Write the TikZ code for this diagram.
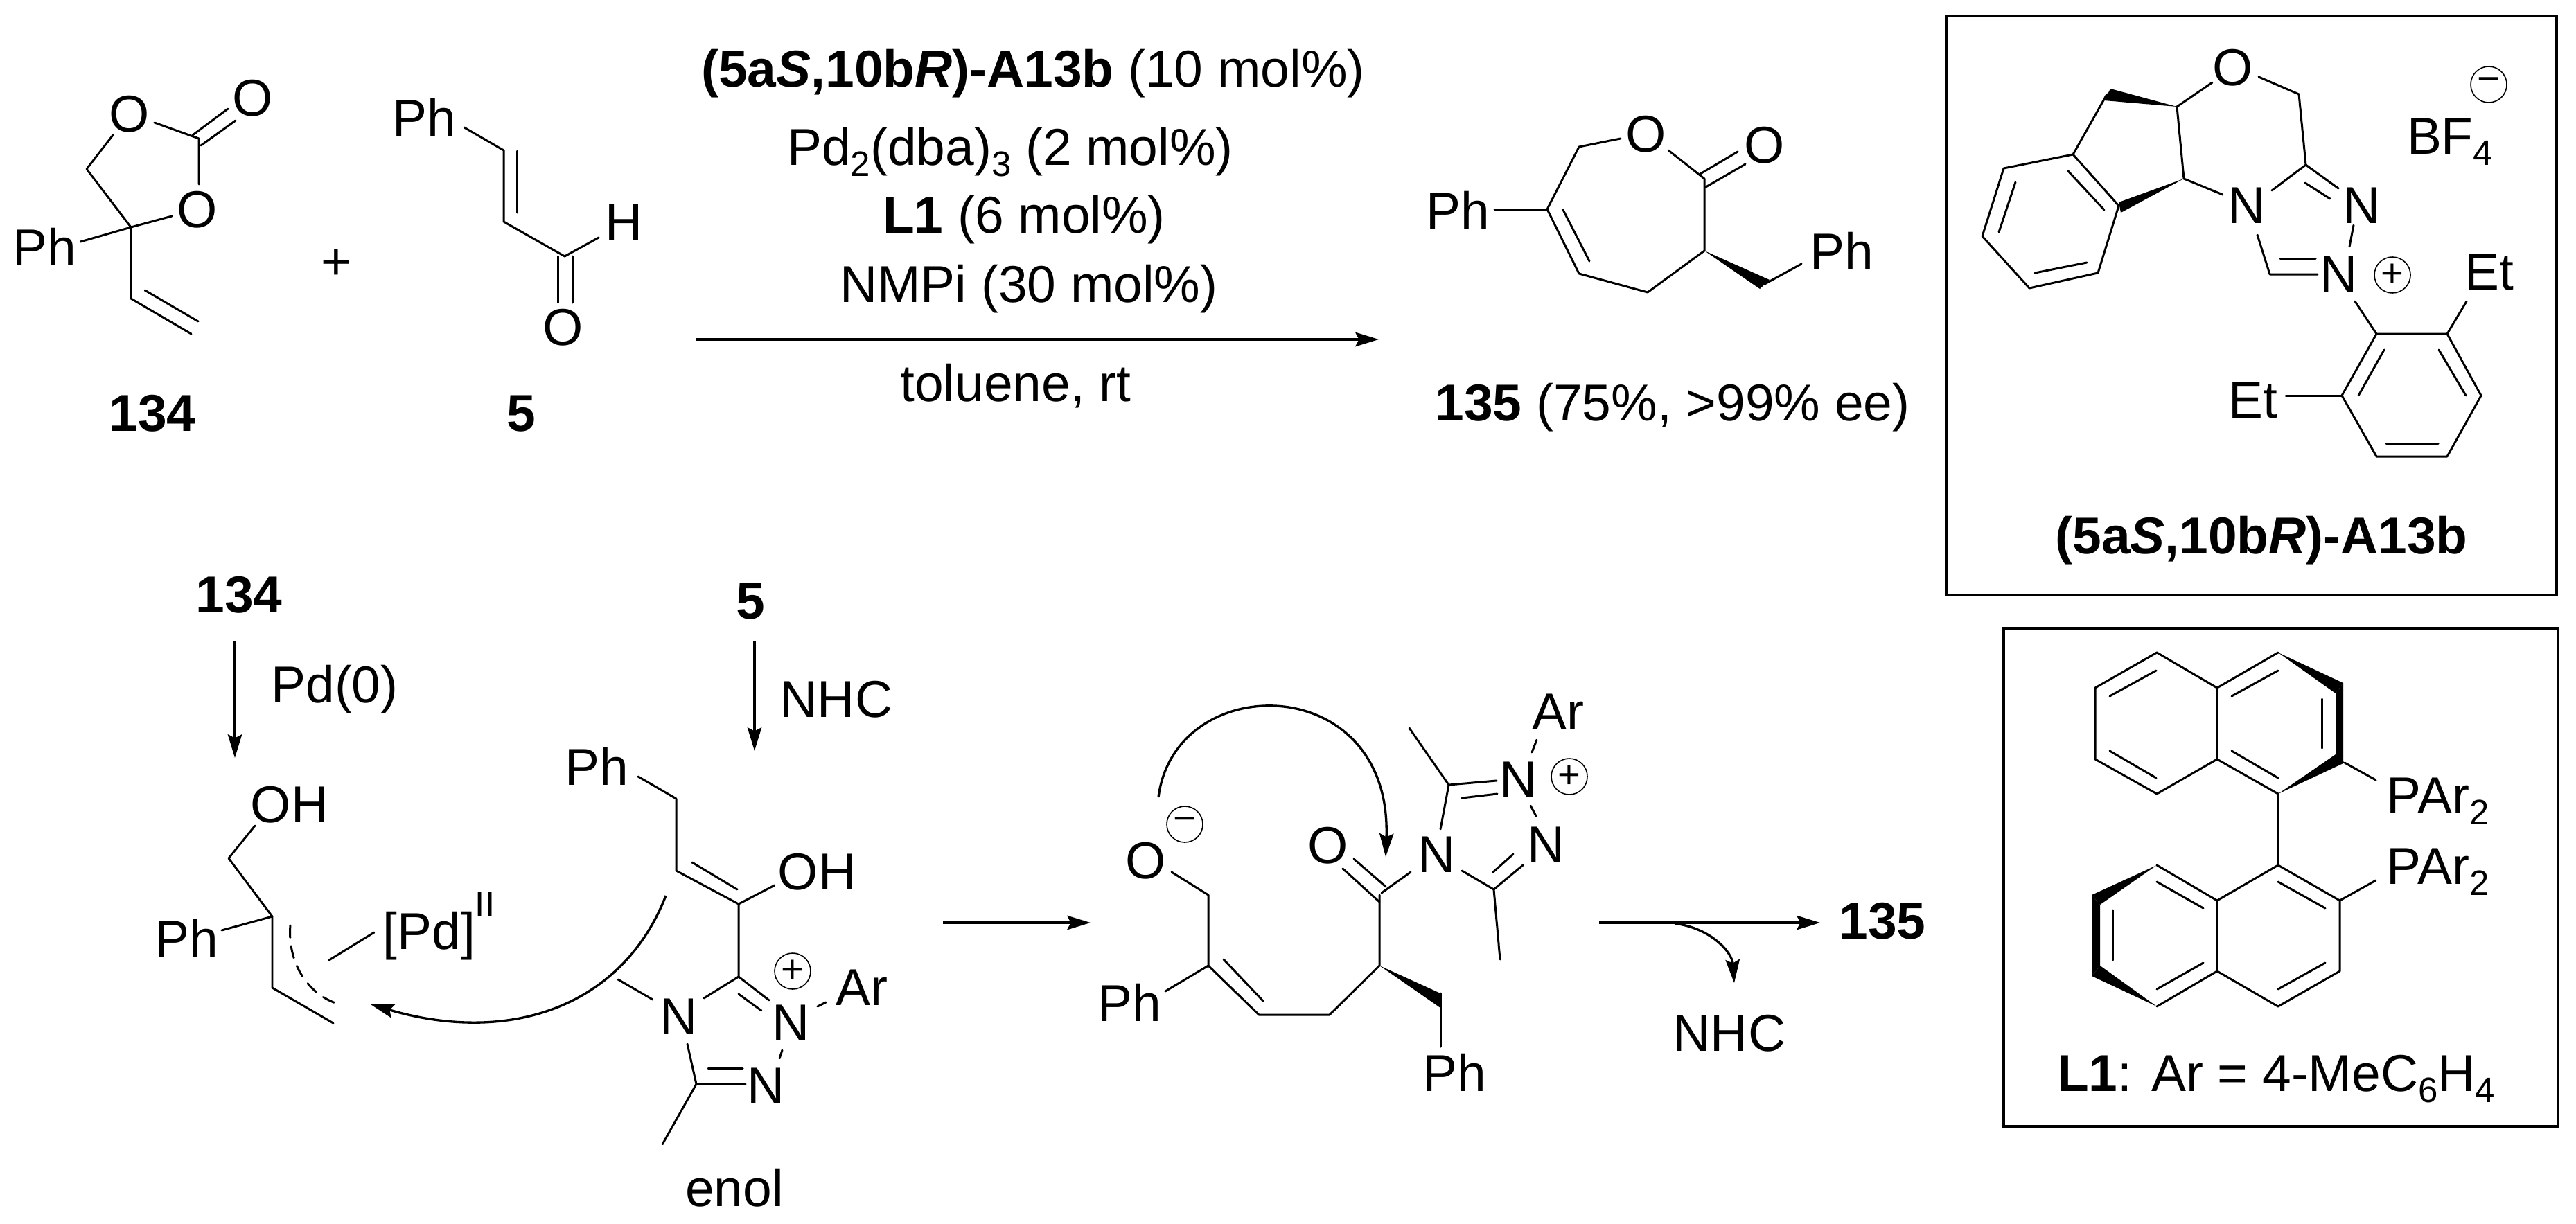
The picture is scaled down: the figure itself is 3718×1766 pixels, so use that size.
\documentclass[tikz,border=0pt]{standalone}
\usepackage{fontspec}
\setmainfont{Liberation Sans}
\usetikzlibrary{arrows.meta}

\newcommand{\chemsub}[1]{\raisebox{-0.22em}{\fontsize{14.5}{15}\selectfont #1}}
\newcommand{\chemsup}[1]{\raisebox{0.62em}{\fontsize{14.5}{15}\selectfont #1}}

\tikzset{
  every node/.style={inner sep=0pt,font=\fontsize{21.3}{25}\selectfont},
  bond/.style={line width=0.85pt,line cap=round,line join=round},
  frame/.style={line width=1.15pt},
  arrowline/.style={line width=0.95pt,->},
  charge/.style={circle,draw,line width=0.45pt,minimum size=0.52cm,
    font=\fontsize{16}{16}\selectfont},
  tag/.style={font=\fontsize{21.3}{25}\selectfont\bfseries},
  >={Stealth[length=9.6pt,width=5.8pt,inset=1.5pt]}
}

\begin{document}
\begin{tikzpicture}[x=0.01cm,y=-0.01cm]
  \useasboundingbox (0,0) rectangle (3718,1766);

  % Compound 134
  \node (ph134) at (64,356) {Ph};
  \node (oa134) at (187,165) {O};
  \node (ob134) at (285,303) {O};
  \node (oc134) at (365,142) {O};
  \node[tag] (lbl134) at (220,597) {134};
  \draw[bond] (163,195) -- (125,244) -- (189,328) -- (248,312);
  \draw[bond] (116,349) -- (189,328) -- (189,431) -- (276,482);
  \draw[bond] (209,419) -- (286,464);
  \draw[bond] (287,266) -- (287,200) -- (223,177);
  \draw[bond] (278,195) -- (329,157);
  \draw[bond] (290,210) -- (340,174);
  \node (plus) at (485,382) {+};

  % Compound 5
  \node (ph5) at (612,169) {Ph};
  \node (h5) at (901,321) {H};
  \node (o5) at (813,473) {O};
  \node[tag] (lbl5) at (752,597) {5};
  \draw[bond] (670,184) -- (727,217) -- (727,320) -- (815,370) -- (864,343);
  \draw[bond] (746,218) -- (746,307);
  \draw[bond] (805,370) -- (805,437);
  \draw[bond] (826,370) -- (826,437);

  % Conditions
  \node[anchor=base] (cond1) at (1491,125) {\textbf{(5a\textit{S},10b\textit{R})-A13b} (10 mol\%)};
  \node[anchor=base] (cond2) at (1458,238) {Pd\chemsub{2}(dba)\chemsub{3} (2 mol\%)};
  \node[anchor=base] (cond3) at (1478,336) {\textbf{L1} (6 mol\%)};
  \node[anchor=base] (cond4) at (1485,436) {NMPi (30 mol\%)};
  \node[anchor=base] (cond5) at (1466,579) {toluene, rt};
  \coordinate (topstart) at (1005,490);
  \coordinate (topend) at (1990,490);
  \draw[arrowline] (topstart) -- (topend);

  % Product 135
  \node (pha135) at (2104,303) {Ph};
  \node (oa135) at (2376,194) {O};
  \node (ob135) at (2547,210) {O};
  \node (phb135) at (2658,362) {Ph};
  \node[anchor=base] (lbl135) at (2414,607) {\textbf{135} (75\%, >99\% ee)};
  \draw[bond] (2339,200) -- (2279,212) -- (2233,302) -- (2279,395) -- (2378,422) -- (2460,362) -- (2460,258) -- (2408,217);
  \draw[bond] (2157,302) -- (2233,302);
  \draw[bond] (2256,303) -- (2294,377);
  \draw[bond] (2454,251) -- (2508,219);
  \draw[bond] (2462,270) -- (2519,237);
  \fill (2460,362) -- (2540,417) -- (2554,404) -- cycle;
  \draw[bond] (2547,410) -- (2600,381);

  % Catalyst box
  \draw[frame] (2809,23) rectangle (3690,859);
  \node (o13) at (3223,98) {O};
  \node (nl13) at (3243,297) {N};
  \node (nr13) at (3409,297) {N};
  \node (np13) at (3375,396) {N};
  \node[charge] (pos13) at (3453,397) {+};
  \node[anchor=base] (bf13) at (3536,222) {BF\chemsub{4}};
  \node[charge] (neg13) at (3592,122) {−};
  \node (eta13) at (3593,393) {Et};
  \node (etb13) at (3252,578) {Et};
  \node[tag] (lbl13) at (3264,780) {(5a\textit{S},10b\textit{R})-A13b};
  \draw[bond] (3260,111) -- (3318,136) -- (3328,238) -- (3279,275);
  \draw[bond] (3328,238) -- (3375,272);
  \draw[bond] (3327,264) -- (3363,287);
  \draw[bond] (3397,325) -- (3391,356);
  \draw[bond] (3258,339) -- (3276,396) -- (3345,396);
  \draw[bond] (3291,373) -- (3342,373);
  \draw[bond] (3193,119) -- (3142,154) -- (3152,258) -- (3208,281);
  \fill (3142,154) -- (3037,145) -- (3046,128) -- cycle;
  \fill (3152,258) -- (3058,292) -- (3061,307) -- cycle;
  \draw[bond] (3041,136) -- (2992,223);
  \draw[bond] (2992,223) -- (3058,297) -- (3028,394) -- (2929,416) -- (2861,341) -- (2892,243) -- cycle;
  \draw[bond] (2985,247) -- (3037,303);
  \draw[bond] (3012,379) -- (2937,394);
  \draw[bond] (2885,335) -- (2909,263);
  \draw[bond] (3399,435) -- (3430,482);
  \draw[bond] (3430,482) -- (3532,482) -- (3581,571) -- (3532,659) -- (3430,659) -- (3380,571) -- cycle;
  \draw[bond] (3441,505) -- (3404,571);
  \draw[bond] (3520,505) -- (3559,571);
  \draw[bond] (3444,640) -- (3519,640);
  \draw[bond] (3560,435) -- (3532,482);
  \draw[bond] (3299,571) -- (3380,571);

  % Ligand box
  \draw[frame] (2892,907) rectangle (3692,1626);
  \node[anchor=base west] (para) at (3444,1174) {PAr\chemsub{2}};
  \node[anchor=base west] (parb) at (3444,1276) {PAr\chemsub{2}};
  \node[anchor=base] (lblL1) at (3285,1575) {\textbf{L1}: Ar = 4-MeC\chemsub{6}H\chemsub{4}};
  % upper naphthyl
  \draw[bond] (3113,942) -- (3024,993) -- (3024,1096) -- (3113,1146) -- (3200,1096) -- (3200,993) -- cycle;
  \draw[bond] (3200,993) -- (3288,942);
  \draw[bond] (3200,1096) -- (3288,1146);
  \draw[bond] (3045,1005) -- (3112,968);
  \draw[bond] (3045,1084) -- (3112,1123);
  \draw[bond] (3221,1005) -- (3288,968);
  \draw[bond] (3221,1084) -- (3288,1123);
  \draw[bond] (3351,1009) -- (3351,1080);
  \fill (3288,942) -- (3382,986) -- (3371,1001) -- cycle;
  \fill (3382,986) -- (3382,1101) -- (3371,1089) -- (3371,1001) -- cycle;
  \fill (3288,1146) -- (3371,1089) -- (3384,1101) -- cycle;
  \draw[bond] (3384,1101) -- (3429,1126);
  \draw[bond] (3288,1146) -- (3288,1249);
  % lower naphthyl
  \draw[bond] (3429,1271) -- (3377,1300) -- (3377,1402) -- (3288,1453) -- (3200,1402) -- (3200,1300) -- (3288,1249) -- (3377,1300);
  \draw[bond] (3200,1300) -- (3113,1249);
  \draw[bond] (3200,1402) -- (3113,1453);
  \draw[bond] (3288,1273) -- (3356,1311);
  \draw[bond] (3356,1390) -- (3288,1428);
  \draw[bond] (3113,1273) -- (3180,1311);
  \draw[bond] (3180,1390) -- (3113,1428);
  \draw[bond] (3200,1300) -- (3200,1402);
  \draw[bond] (3049,1314) -- (3049,1386);
  \fill (3113,1249) -- (3019,1292) -- (3031,1306) -- cycle;
  \fill (3019,1292) -- (3031,1306) -- (3031,1394) -- (3019,1409) -- cycle;
  \fill (3113,1453) -- (3019,1409) -- (3031,1394) -- cycle;

  % Pd branch
  \node[tag] (s134) at (345,859) {134};
  \node (pd0) at (483,995) {Pd(0)};
  \coordinate (pdstart) at (339,926);
  \coordinate (pdend) at (339,1094);
  \draw[arrowline] (pdstart) -- (pdend);
  \node (oh1) at (418,1162) {OH};
  \node (ph1) at (269,1354) {Ph};
  \node[anchor=base west] (pd2) at (552,1370) {[Pd]\chemsup{II}};
  \draw[bond] (368,1192) -- (330,1239) -- (393,1323) -- (393,1426) -- (481,1477);
  \draw[bond] (320,1343) -- (393,1323);
  \draw[bond] (475,1386) -- (540,1346);
  \draw[bond,dash pattern=on 5pt off 3.5pt] (419,1336) .. controls (415,1385) and (440,1435) .. (490,1450);

  % NHC branch
  \node[tag] (s5) at (1083,868) {5};
  \node (nhca) at (1207,1010) {NHC};
  \coordinate (nhcstart) at (1089,926);
  \coordinate (nhcend) at (1089,1084);
  \draw[arrowline] (nhcstart) -- (nhcend);
  \node (ph2) at (861,1106) {Ph};
  \node (oh2) at (1179,1259) {OH};
  \node (n2a) at (980,1468) {N};
  \node (n2b) at (1142,1477) {N};
  \node (n2c) at (1106,1568) {N};
  \node[charge] (pos2) at (1144,1402) {+};
  \node (ar2) at (1244,1426) {Ar};
  \node (enol) at (1060,1715) {enol};
  \draw[bond] (921,1121) -- (976,1153) -- (976,1257) -- (1066,1305) -- (1118,1278);
  \draw[bond] (999,1245) -- (1064,1284);
  \draw[bond] (1066,1305) -- (1066,1410) -- (1016,1441);
  \draw[bond] (892,1414) -- (942,1443);
  \draw[bond] (1066,1410) -- (1110,1444);
  \draw[bond] (1066,1435) -- (1099,1459);
  \draw[bond] (1180,1453) -- (1192,1447);
  \draw[bond] (1129,1516) -- (1125,1528);
  \draw[bond] (992,1507) -- (1005,1565) -- (1076,1565);
  \draw[bond] (1022,1542) -- (1072,1542);
  \draw[bond] (1005,1565) -- (956,1652);
  \coordinate (attackstart) at (961,1293);
  \coordinate (attackend) at (535,1450);
  \draw[arrowline] (attackstart) .. controls (900,1450) and (740,1510) .. (attackend);

  % Acyl azolium
  \coordinate (midstart) at (1361,1332);
  \coordinate (midend) at (1574,1332);
  \draw[arrowline] (midstart) -- (midend);
  \node (o3) at (1654,1243) {O};
  \node[charge] (neg3) at (1710,1190) {−};
  \node (ph3a) at (1630,1447) {Ph};
  \node (o3b) at (1917,1221) {O};
  \node (n3a) at (2074,1234) {N};
  \node (n3b) at (2192,1126) {N};
  \node (n3c) at (2232,1220) {N};
  \node[charge] (pos3) at (2265,1121) {+};
  \node (ar3) at (2249,1028) {Ar};
  \node (ph3b) at (2099,1548) {Ph};
  \draw[bond] (1691,1259) -- (1744,1292) -- (1744,1394) -- (1817,1465) -- (1919,1465) -- (1991,1394) -- (1991,1292);
  \draw[bond] (1682,1431) -- (1744,1394);
  \draw[bond] (1766,1385) -- (1823,1445);
  \draw[bond] (1938,1254) -- (1991,1302);
  \draw[bond] (1954,1240) -- (2000,1280);
  \draw[bond] (1994,1289) -- (2036,1259);
  \draw[bond] (2079,1197) -- (2091,1133) -- (2160,1127);
  \draw[bond] (2091,1133) -- (2034,1051);
  \draw[bond] (2110,1152) -- (2161,1146);
  \draw[bond] (2211,1086) -- (2218,1068);
  \draw[bond] (2209,1163) -- (2217,1178);
  \draw[bond] (2110,1257) -- (2156,1284) -- (2198,1249);
  \draw[bond] (2155,1259) -- (2184,1233);
  \draw[bond] (2156,1284) -- (2165,1385);
  \fill (1991,1394) -- (2079,1434) -- (2079,1455) -- cycle;
  \draw[bond] (2079,1434) -- (2079,1511);
  \coordinate (closestart) at (1672,1151);
  \coordinate (closeend) at (2000,1237);
  \draw[arrowline] (closestart) .. controls (1695,966) and (2010,966) .. (closeend);

  % Release of NHC
  \coordinate (laststart) at (2308,1332);
  \coordinate (lastend) at (2627,1332);
  \node[tag] (f135) at (2717,1330) {135};
  \draw[arrowline] (laststart) -- (lastend);
  \coordinate (branchstart) at (2417,1333);
  \coordinate (branchend) at (2503,1419);
  \draw[arrowline] (branchstart) .. controls (2470,1340) and (2500,1375) .. (branchend);
  \node (nhcb) at (2496,1492) {NHC};
\end{tikzpicture}
\end{document}
